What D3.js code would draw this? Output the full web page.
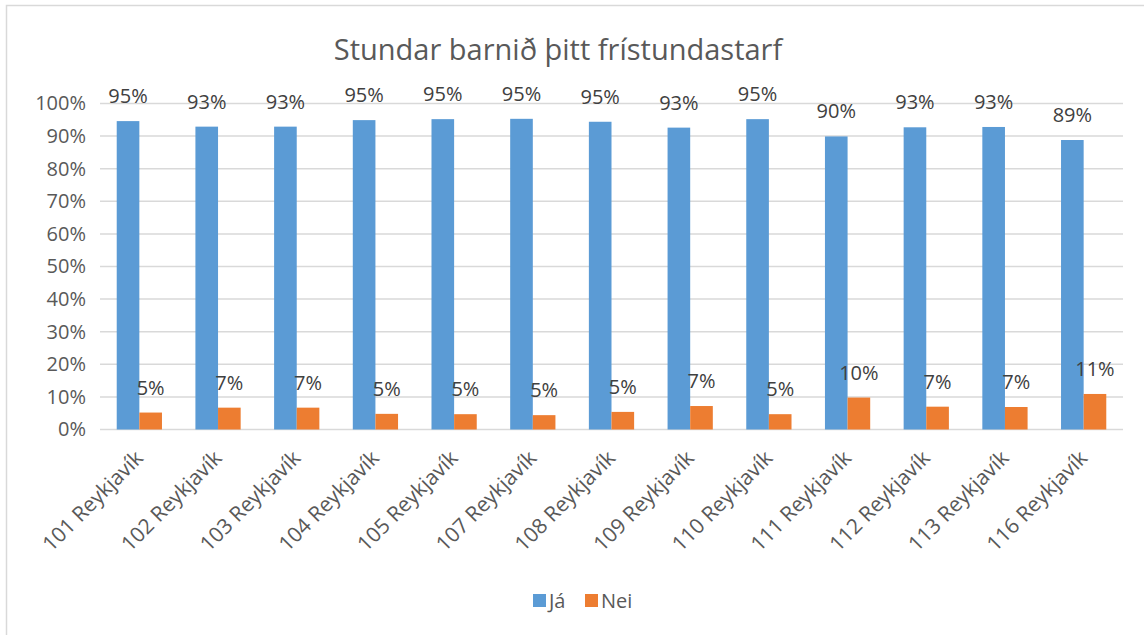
<!DOCTYPE html>
<html>
<head>
<meta charset="utf-8">
<script src="https://cdn.jsdelivr.net/npm/d3@7"></script>
<style>
  body { margin: 0; background: #fff; }
  svg text { font-family: "Open Sans", sans-serif; }
</style>
</head>
<body>
<div id="chart"></div>
<script>
var categories = ["101 Reykjavík", "102 Reykjavík", "103 Reykjavík", "104 Reykjavík", "105 Reykjavík",
    "107 Reykjavík", "108 Reykjavík", "109 Reykjavík", "110 Reykjavík", "111 Reykjavík",
    "112 Reykjavík", "113 Reykjavík", "116 Reykjavík"];
var seriesNames = ["Já", "Nei"];
var jaValues = [0.946, 0.929, 0.929, 0.949, 0.952, 0.953, 0.944, 0.926, 0.952, 0.899, 0.927, 0.928, 0.888];
var neiValues = [0.052, 0.067, 0.067, 0.048, 0.047, 0.044, 0.054, 0.072, 0.047, 0.098, 0.070, 0.069, 0.109];
var jaLabels = ["95%", "93%", "93%", "95%", "95%", "95%", "95%", "93%", "95%", "90%", "93%", "93%", "89%"];
var neiLabels = ["5%", "7%", "7%", "5%", "5%", "5%", "5%", "7%", "5%", "10%", "7%", "7%", "11%"];
var yTicks = [0, 0.1, 0.2, 0.3, 0.4, 0.5, 0.6, 0.7, 0.8, 0.9, 1.0];
var colors = ["#5B9BD5", "#ED7D31"];

var width = 1144, height = 635;
var margin = {top: 103.5, right: 21, bottom: 205.5, left: 100};
var w = width - margin.left - margin.right,
    h = height - margin.top - margin.bottom;

var svg = d3.select("#chart").append("svg")
    .attr("width", width)
    .attr("height", height);

// chart frame
svg.append("rect")
    .attr("x", 6.5).attr("y", 5.5)
    .attr("width", 1200).attr("height", 700)
    .style("fill", "none")
    .style("stroke", "#d9d9d9")
    .style("stroke-width", 1.5);

svg.append("text")
    .attr("x", 558)
    .attr("y", 60)
    .attr("text-anchor", "middle")
    .style("font-size", "29px")
    .style("fill", "#595959")
    .text("Stundar barnið þitt frístundastarf");

var g = svg.append("g")
    .attr("transform", "translate(" + margin.left + "," + margin.top + ")");

var x0 = d3.scaleBand().domain(categories).range([0, w]).paddingInner(0.425).paddingOuter(0.2125);
var x1 = d3.scaleBand().domain(seriesNames).range([0, x0.bandwidth()]);
var y = d3.scaleLinear().domain([0, 1]).range([h, 0]);

// gridlines
g.selectAll(".grid").data(yTicks)
  .enter().append("line")
    .attr("x1", 0).attr("x2", w)
    .attr("y1", function(d) { return y(d); })
    .attr("y2", function(d) { return y(d); })
    .style("stroke", "#d9d9d9")
    .style("stroke-width", 1.5);

// y axis labels
var yAxis = d3.axisLeft(y).tickValues(yTicks).tickFormat(d3.format(".0%")).tickSize(0).tickPadding(14);
var ya = g.append("g").call(yAxis);
ya.select(".domain").remove();
ya.selectAll("text")
    .style("font-size", "20px")
    .style("fill", "#595959")
    .style("font-family", "'Open Sans', sans-serif");

// x axis labels
var xAxis = d3.axisBottom(x0).tickSize(0).tickPadding(0);
var xa = g.append("g").attr("transform", "translate(0," + h + ")").call(xAxis);
xa.select(".domain").remove();
xa.selectAll("text")
    .style("font-size", "21px")
    .style("fill", "#595959")
    .style("font-family", "'Open Sans', sans-serif")
    .attr("text-anchor", "end")
    .attr("dy", null)
    .attr("transform", "translate(5,30) rotate(-45)");

var series = [jaValues, neiValues];
var labels = [jaLabels, neiLabels];

series.forEach(function(vals, si) {
    var grp = g.append("g");
    grp.selectAll("rect").data(vals)
      .enter().append("rect")
        .attr("x", function(d, i) { return x0(categories[i]) + x1(seriesNames[si]); })
        .attr("y", function(d) { return y(d); })
        .attr("width", x1.bandwidth())
        .attr("height", function(d) { return h - y(d); })
        .style("fill", colors[si]);
    grp.selectAll("text").data(vals)
      .enter().append("text")
        .attr("x", function(d, i) { return x0(categories[i]) + x1(seriesNames[si]) + x1.bandwidth() / 2; })
        .attr("y", function(d) { return y(d) - 18; })
        .attr("text-anchor", "middle")
        .style("font-size", "20px")
        .style("fill", "#404040")
        .text(function(d, i) { return labels[si][i]; });
});

// legend
var legendX = [533, 585];
var legend = svg.append("g");
seriesNames.forEach(function(name, i) {
    legend.append("rect")
        .attr("x", legendX[i]).attr("y", 594)
        .attr("width", 13).attr("height", 13)
        .style("fill", colors[i]);
    legend.append("text")
        .attr("x", legendX[i] + 16).attr("y", 608)
        .style("font-size", "20px")
        .style("fill", "#595959")
        .text(name);
});
</script>
</body>
</html>
